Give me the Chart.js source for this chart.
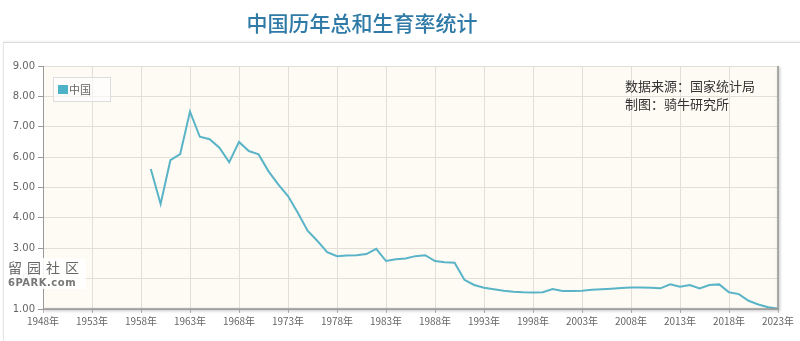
<!DOCTYPE html>
<html>
<head>
<meta charset="utf-8">
<script src="https://cdn.jsdelivr.net/npm/chart.js@4/dist/chart.umd.min.js"></script>
<style>
  html, body { margin: 0; padding: 0; background: #fff; }
  body { width: 800px; height: 341px; position: relative; overflow: hidden;
         font-family: "Noto Sans CJK SC", "Noto Sans", sans-serif; }
  #title { position: absolute; left: 212px; top: 7px; width: 300px; text-align: center; white-space: nowrap;
           font-size: 21px; font-weight: 500; color: #2f7aa6; }
  #frame { position: absolute; left: 3px; top: 42px; width: 800px; height: 310px;
           border-top: 1px solid #dcdcdc; border-left: 1px solid #e6e6e6;
           box-shadow: 0 -1px 2px rgba(0,0,0,0.06); }
  #wrap { position: absolute; left: 0; top: 0; width: 800px; height: 341px; }
  #legend { position: absolute; left: 53px; top: 77px; width: 56px; height: 23px;
            border: 1px solid #ddd; background: rgba(255,255,255,0.6); font-size: 11px; color: #666; }
  #legend span.box { position: absolute; left: 4px; top: 7px; width: 10px; height: 9px; background: #4fb3c8; }
  #legend span.txt { position: absolute; left: 15px; top: 3px; }
  #note { position: absolute; left: 625px; top: 77px; font-size: 13px; line-height: 18px; color: #333; }
  #wm { position: absolute; left: 6px; top: 258px; padding: 0 2px; color: #777; white-space: nowrap;
        background: rgba(255,255,255,0.9); font-family: "DejaVu Sans", sans-serif; }
  #wm .a { font-family: "Noto Sans CJK SC"; font-size: 14px; letter-spacing: 5px; color: #666; line-height: 19px; }
  #wm .b { font-size: 10px; font-weight: bold; color: #777; line-height: 12px; letter-spacing: 0.5px; }
</style>
</head>
<body>
<div id="frame"></div>
<div id="wrap"><canvas id="myChart" width="800" height="341"></canvas></div>
<div id="title">中国历年总和生育率统计</div>
<div id="legend"><span class="box"></span><span class="txt">中国</span></div>
<div id="note">数据来源：国家统计局<br>制图：骑牛研究所</div>
<div id="wm"><div class="a">留园社区</div><div class="b">6PARK.com</div></div>
<script>
// years on the x axis
var years = [];
for (var y = 1948; y <= 2023; y++) years.push(y);

// 总和生育率, 1959 - 2023
var firstYear = 1959;
var tfr = [5.61, 4.46, 5.90, 6.10, 7.50, 6.67, 6.59, 6.31, 5.83, 6.50,
           6.20, 6.09, 5.54, 5.10, 4.72, 4.17, 3.58, 3.24, 2.87, 2.74,
           2.76, 2.77, 2.81, 2.98, 2.58, 2.64, 2.66, 2.74, 2.77, 2.58,
           2.54, 2.52, 1.96, 1.79, 1.70, 1.65, 1.60, 1.57, 1.55, 1.54,
           1.55, 1.66, 1.59, 1.59, 1.60, 1.63, 1.65, 1.67, 1.69, 1.71,
           1.71, 1.70, 1.68, 1.81, 1.73, 1.79, 1.68, 1.79, 1.81, 1.55,
           1.49, 1.27, 1.15, 1.06, 1.01];
var seriesName = '中国';
var yTicks = [1, 2, 3, 4, 5, 6, 7, 8, 9];

var labels = years.map(function(v){ return v + '年'; });
var values = years.map(function(v){
    var i = v - firstYear;
    return i >= 0 && i < tfr.length ? tfr[i] : null;
});

var plotBg = {
    id: 'plotBg',
    beforeDraw: function(chart){
        var a = chart.chartArea, c = chart.ctx;
        c.save();
        c.fillStyle = '#fdfbf4';
        c.fillRect(a.left, a.top, a.right - a.left, a.bottom - a.top);
        c.restore();
    },
    afterDraw: function(chart){
        var a = chart.chartArea, c = chart.ctx;
        c.save();
        c.shadowColor = 'rgba(0,0,0,0.35)';
        c.shadowBlur = 3;
        c.shadowOffsetX = 1;
        c.shadowOffsetY = 1;
        c.strokeStyle = '#9a9a9a';
        c.lineWidth = 1.5;
        c.beginPath();
        c.moveTo(a.right, a.top);
        c.lineTo(a.right, a.bottom);
        c.lineTo(a.left, a.bottom);
        c.stroke();
        c.restore();
    }
};

var ctx = document.getElementById('myChart').getContext('2d');
var chart = new Chart(ctx, {
    type: 'line',
    data: {
        labels: labels,
        datasets: [{
            label: seriesName,
            data: values,
            borderColor: '#5ab4c7',
            backgroundColor: '#5ab4c7',
            borderWidth: 2,
            pointRadius: 0,
            tension: 0,
            fill: false,
            spanGaps: false
        }]
    },
    options: {
        responsive: false,
        animation: false,
        layout: { padding: { left: 0, top: 66, right: 22, bottom: 0 } },
        plugins: { legend: { display: false }, tooltip: { enabled: false } },
        scales: {
            x: {
                type: 'category',
                offset: false,
                grid: { color: '#e2dfd8', lineWidth: 1, tickLength: 4, tickColor: '#bbb' },
                border: { color: '#c9c9c9' },
                ticks: {
                    autoSkip: false, maxRotation: 0, minRotation: 0,
                    color: '#666', font: { size: 10, family: 'Noto Sans CJK SC' }, padding: 2,
                    callback: function(val, idx){
                        return (years[idx] - 1948) % 5 === 0 ? labels[idx] : null;
                    }
                },
                afterFit: function(s){ s.height = 32; }
            },
            y: {
                min: 1, max: 9,
                afterBuildTicks: function(s){ s.ticks = yTicks.map(function(v){ return { value: v }; }); },
                grid: { color: '#e2dfd8', lineWidth: 1, tickLength: 5, tickColor: '#999' },
                border: { color: '#999', width: 1 },
                ticks: {
                    color: '#666', font: { size: 10, family: 'DejaVu Sans' }, padding: 3,
                    callback: function(v){ return Number(v).toFixed(2); }
                },
                afterFit: function(s){ s.width = 43; }
            }
        }
    },
    plugins: [plotBg]
});
</script>
</body>
</html>
